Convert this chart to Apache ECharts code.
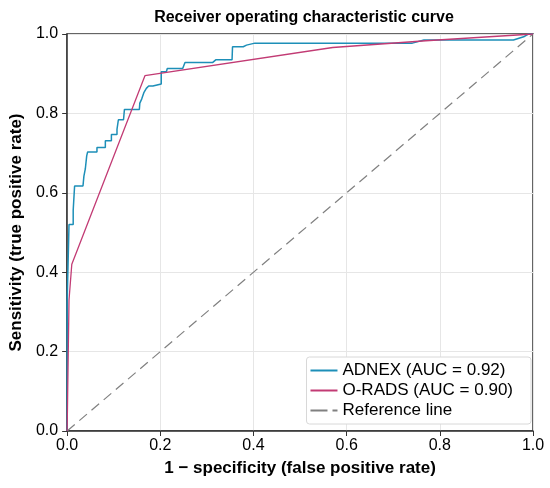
<!DOCTYPE html>
<html><head><meta charset="utf-8">
<script src="https://cdn.jsdelivr.net/npm/echarts@6/dist/echarts.min.js"></script>
<style>html,body{margin:0;padding:0;background:#fff}#c{width:550px;height:488px}</style>
</head><body><div id="c"></div>
<script>
const adnexFpr = [0,0,0.004,0.004,0.013,0.013,0.016,0.016,0.034,0.036,0.039,0.042,0.044,0.064,0.064,0.082,0.082,0.095,0.095,0.107,0.107,0.11,0.11,0.121,0.123,0.155,0.156,0.16,0.165,0.17,0.175,0.184,0.184,0.202,0.202,0.213,0.215,0.248,0.253,0.312,0.319,0.354,0.355,0.378,0.385,0.403,0.741,0.766,0.958,0.98,0.99,1];
const adnexTpr = [0,0.323,0.323,0.52,0.52,0.556,0.556,0.617,0.617,0.642,0.66,0.693,0.703,0.703,0.714,0.714,0.731,0.731,0.747,0.747,0.76,0.76,0.784,0.784,0.81,0.81,0.826,0.836,0.853,0.863,0.869,0.869,0.874,0.874,0.905,0.905,0.913,0.913,0.928,0.928,0.935,0.935,0.968,0.968,0.972,0.977,0.977,0.985,0.985,0.993,1.0,1];
const oradsFpr = [0,0.004,0.01,0.167,0.57,0.77,1];
const oradsTpr = [0,0.33,0.42,0.895,0.966,0.983,1];
const refFpr = [0,1];
const refTpr = [0,1];
const seriesNames = ['ADNEX (AUC = 0.92)','O-RADS (AUC = 0.90)','Reference line'];
const zip = (a,b)=>a.map((v,i)=>[v,b[i]]);

const chart = echarts.init(document.getElementById('c'));
const font = 'Liberation Sans, Arial, sans-serif';
const axisCommon = {
  min:0,max:1,interval:0.2,
  axisLine:{show:true,onZero:false,lineStyle:{color:'#333',width:1.5}},
  axisTick:{show:true,length:5,lineStyle:{color:'#333',width:1}},
  splitLine:{show:true,lineStyle:{color:'#e6e6e6',width:1}},
  nameLocation:'middle',
  nameTextStyle:{color:'#000',fontSize:17,fontWeight:'bold',fontFamily:font}
};
const lbl = m => ({color:'#000',fontSize:16,fontFamily:font,margin:m,formatter:v=>v.toFixed(1)});
chart.setOption({
  animation:false,
  title:{text:'Receiver operating characteristic curve',left:299,top:5,textAlign:'center',
    textStyle:{fontSize:16,fontWeight:'bold',color:'#000',fontFamily:font}},
  grid:{left:65,right:17,top:34,bottom:57,show:true,borderColor:'#333',borderWidth:1.5},
  xAxis:Object.assign({},axisCommon,{type:'value',name:'1 − specificity (false positive rate)',nameGap:29,axisLabel:lbl(7)}),
  yAxis:Object.assign({},axisCommon,{type:'value',name:'Sensitivity (true positive rate)',nameGap:40,axisLabel:lbl(9)}),
  legend:{
    orient:'vertical',right:19,bottom:64,itemWidth:27,itemHeight:2,itemGap:3,
    backgroundColor:'#fff',borderColor:'#d8d8d8',borderWidth:1,borderRadius:3,
    padding:[5,18,5,4],
    textStyle:{fontSize:17,color:'#000',fontFamily:font},
    data:[
      {name:seriesNames[0],icon:'path://M0,0h27v2h-27z'},
      {name:seriesNames[1],icon:'path://M0,0h27v2h-27z'},
      {name:seriesNames[2],icon:'path://M0,0h17v2h-17zM22,0h5v2h-5z'}
    ]
  },
  series:[
    {name:seriesNames[0],type:'line',data:zip(adnexFpr,adnexTpr),symbol:'none',
      lineStyle:{color:'#1d8fb8',width:1.5},itemStyle:{color:'#1d8fb8'},z:3},
    {name:seriesNames[1],type:'line',data:zip(oradsFpr,oradsTpr),symbol:'none',
      lineStyle:{color:'#c23b74',width:1.3},itemStyle:{color:'#c23b74'},z:4},
    {name:seriesNames[2],type:'line',data:zip(refFpr,refTpr),symbol:'none',
      lineStyle:{color:'#808080',width:1.2,type:[10,6]},itemStyle:{color:'#808080'},z:2}
  ]
});
</script></body></html>
